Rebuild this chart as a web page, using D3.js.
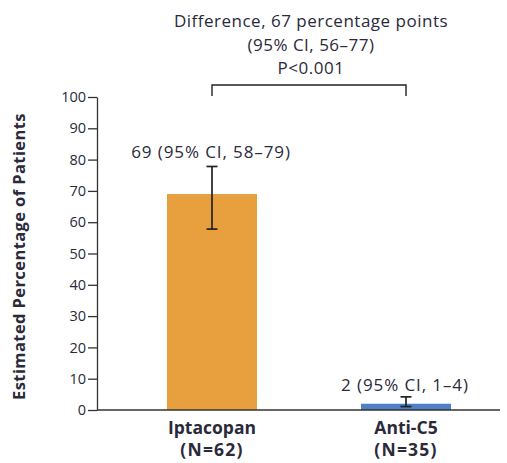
<!DOCTYPE html>
<html><head><meta charset="utf-8">
<script src="https://cdn.jsdelivr.net/npm/d3@7"></script>
<style>body{margin:0;background:#fff}svg{display:block}</style>
</head><body>
<script>
const categories = ["Iptacopan", "Anti-C5"];
const nLabels = ["(N=62)", "(N=35)"];
const values = [69, 2];
const ciLow = [57.8, 1.1];
const ciHigh = [77.8, 4.2];
const valueLabels = ["69 (95% CI, 58\u201379)", "2 (95% CI, 1\u20134)"];
const colors = ["#E8A03F", "#4F80C6"];
const yTicks = [0,10,20,30,40,50,60,70,80,90,100];
const diffLines = ["Difference, 67 percentage points", "(95% CI, 56\u201377)", "P<0.001"];
const yTitle = "Estimated Percentage of Patients";

const W = 507, H = 463;
const m = {left: 97, top: 97, bottom: 53, right: 7};
const font = "'Open Sans', 'Liberation Sans', sans-serif";
const txt = "#2a2a3a";

const svg = d3.select("body").append("svg").attr("width", W).attr("height", H);
const y = d3.scaleLinear().domain([0, 100]).range([H - m.bottom, m.top]);
const x = d3.scaleBand().domain(categories).range([115, 503]).paddingInner(0.536).paddingOuter(0.268);

// bars
svg.selectAll("rect.bar").data(categories).join("rect")
  .attr("x", d => x(d)).attr("width", x.bandwidth())
  .attr("y", (d,i) => y(values[i])).attr("height", (d,i) => y(0) - y(values[i]))
  .attr("fill", (d,i) => colors[i]);

// error bars
const cx = d => x(d) + x.bandwidth()/2;
const eb = svg.append("g").attr("stroke", "#222").attr("stroke-width", 1.7);
categories.forEach((d,i) => {
  const c = cx(d);
  eb.append("line").attr("x1", c).attr("x2", c).attr("y1", y(ciLow[i])).attr("y2", y(ciHigh[i]));
  [ciLow[i], ciHigh[i]].forEach(v => eb.append("line").attr("x1", c-5.5).attr("x2", c+5.5).attr("y1", y(v)).attr("y2", y(v)));
});

// y axis
const ya = svg.append("g").attr("transform", `translate(${m.left},0)`)
  .call(d3.axisLeft(y).tickValues(yTicks).tickSize(9).tickPadding(2).tickSizeOuter(0));
ya.select(".domain").attr("stroke", "#333").attr("stroke-width", 1.3);
ya.selectAll(".tick line").attr("stroke", "#333").attr("stroke-width", 1.3);
ya.selectAll(".tick text").attr("font-family", font).attr("font-size", 14.5).attr("fill", txt);

// x baseline
svg.append("line").attr("x1", m.left).attr("x2", W - m.right).attr("y1", y(0)).attr("y2", y(0))
  .attr("stroke", "#333").attr("stroke-width", 1.3);

// x labels
categories.forEach((d,i) => {
  svg.append("text").attr("x", cx(d)).attr("y", 434).attr("text-anchor", "middle")
    .attr("font-family", font).attr("font-weight", "bold").attr("font-size", 17.5).attr("fill", txt).text(d);
  svg.append("text").attr("x", cx(d)).attr("y", 456).attr("text-anchor", "middle").attr("letter-spacing", 1.2)
    .attr("font-family", font).attr("font-weight", "bold").attr("font-size", 17.5).attr("fill", txt).text(nLabels[i]);
});

// value labels
const vlY = [158, 391];
categories.forEach((d,i) => {
  svg.append("text").attr("x", cx(d) - 1).attr("y", vlY[i]).attr("text-anchor", "middle").attr("letter-spacing", 0.9)
    .attr("font-family", font).attr("font-size", 17).attr("fill", txt).text(valueLabels[i]);
});

// bracket
const c0 = cx(categories[0]), c1 = cx(categories[1]);
svg.append("path").attr("d", `M${c0},96 V85 H${c1} V96`).attr("fill", "none").attr("stroke", "#222").attr("stroke-width", 1.4);
diffLines.forEach((l, i) => {
  svg.append("text").attr("x", (c0 + c1)/2 + 2).attr("y", 27 + i*23.5).attr("text-anchor", "middle").attr("letter-spacing", 0.5)
    .attr("font-family", font).attr("font-size", 17).attr("fill", txt).text(l);
});

// y title
svg.append("text").attr("transform", `translate(25,${(y(0)+y(100))/2 + 3}) rotate(-90)`).attr("text-anchor", "middle")
  .attr("letter-spacing", 0.4)
  .attr("font-family", font).attr("font-weight", "bold").attr("font-size", 16.5).attr("fill", txt).text(yTitle);
</script>
</body></html>
